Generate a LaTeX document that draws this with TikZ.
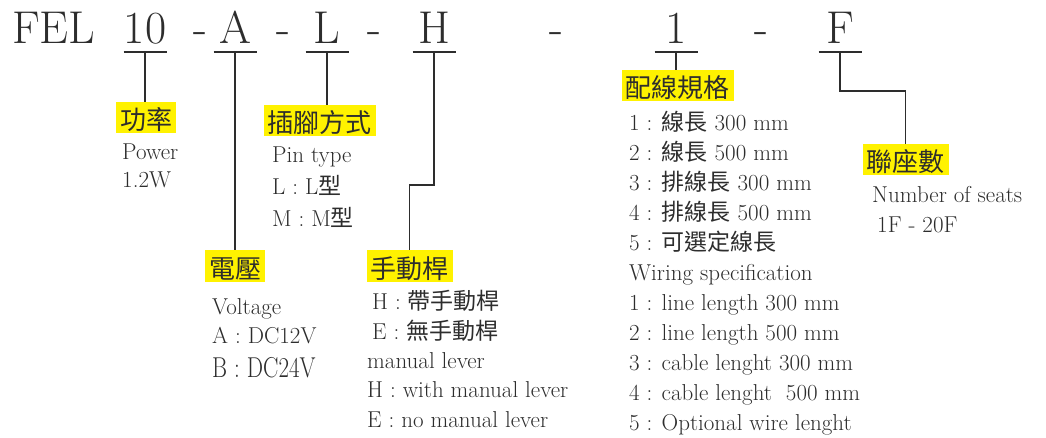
\documentclass[tikz,border=0pt]{standalone}
\usepackage{fontspec}
\newfontfamily\cjk{Noto Sans CJK TC}
\definecolor{ink}{RGB}{45,45,45}
\tikzset{
	code/.style={font=\fontsize{46}{46}\selectfont, text=ink, anchor=base, minimum width=43pt, inner xsep=0pt, inner ysep=8pt, text depth=0pt, outer sep=0pt},
	hy/.style={font=\fontsize{46}{46}\selectfont, text=ink, anchor=base, inner sep=0pt},
	tag/.style={fill=yellow, text=ink, font=\cjk\fontsize{26}{26}\selectfont, inner xsep=4pt, inner ysep=2.5pt, text height=25pt, text depth=1pt, outer sep=0pt},
	desc/.style={font=\fontsize{23}{30}\selectfont, text=ink, align=left, anchor=base west, inner sep=0pt},
	lead/.style={draw=ink, line width=1.8pt}
}
\begin{document}
\begin{tikzpicture}[x=1pt, y=-1pt]
	\useasboundingbox (0,0) rectangle (1046,438);
	\node[hy, anchor=base west] (fel) at (12,44) {FEL};
	\node[code] (c10) at (145,44) {10};
	\node[hy] (h1) at (200,44) {-};
	\node[code] (cA) at (235,44) {A};
	\node[hy] (h2) at (283,44) {-};
	\node[code] (cL) at (327,44) {L};
	\node[hy] (h3) at (374,44) {-};
	\node[code] (cH) at (434,44) {H};
	\node[hy] (h4) at (556,44) {-};
	\node[code] (c1) at (676,44) {1};
	\node[hy] (h5) at (761,44) {-};
	\node[code] (cF) at (840,44) {F};
	\draw[lead] (c10.south west) -- (c10.south east);
	\draw[lead] (cA.south west) -- (cA.south east);
	\draw[lead] (cL.south west) -- (cL.south east);
	\draw[lead] (cH.south west) -- (cH.south east);
	\draw[lead] (c1.south west) -- (c1.south east);
	\draw[lead] (cF.south west) -- (cF.south east);
	\node[tag] (pw) at (146,118) {功率};
	\node[tag] (pin) at (319.5,120.5) {插腳方式};
	\node[tag] (volt) at (235,266) {電壓};
	\node[tag] (lever) at (409.5,266) {手動桿};
	\node[tag] (wire) at (677.5,86) {配線規格};
	\node[tag] (seat) at (905.5,160) {聯座數};
	\coordinate (hbend) at (434,185);
	\coordinate (fbend) at (840,91);
	\draw[lead] (c10.south) -- (c10.south |- pw.north);
	\draw[lead] (cA.south) -- (cA.south |- volt.north);
	\draw[lead] (cL.south) -- (cL.south |- pin.north);
	\draw[lead] (cH.south) -- (hbend) -| (lever.north);
	\draw[lead] (c1.south) -- (c1.south |- wire.north);
	\draw[lead] (cF.south) -- (fbend) -| (seat.north);
	\node[desc, font=\fontsize{23}{28}\selectfont] (pwtxt) at (122,188) {Power\\1.2W};
	\node[desc, font=\fontsize{23}{32}\selectfont] (pintxt) at (272,227) {Pin type\\L : L{\cjk 型}\\M : M{\cjk 型}};
	\node[desc, font=\fontsize{23}{29}\selectfont] (volttxt) at (212,377) {Voltage\\A : DC12V\\[5pt]\scalebox{1}[1.25]{B : DC24V}};
	\node[desc, font=\fontsize{23}{29.3}\selectfont] (levertxt) at (367,427) {\hspace*{5pt}H : {\cjk 帶手動桿}\\\hspace*{5pt}E : {\cjk 無手動桿}\\manual lever\\H : with manual lever\\E : no manual lever};
	\node[desc] (wiretxt) at (629,430) {1 : {\cjk 線長} 300 mm\\2 : {\cjk 線長} 500 mm\\3 : {\cjk 排線長} 300 mm\\4 : {\cjk 排線長} 500 mm\\5 : {\cjk 可選定線長}\\Wiring specification\\1 : line length 300 mm\\2 : line length 500 mm\\3 : cable lenght 300 mm\\4 : cable lenght\ \ 500 mm\\5 : Optional wire lenght};
	\node[desc] (seattxt) at (872,233) {Number of seats\\\hspace*{5pt}1F - 20F};
\end{tikzpicture}
\end{document}
